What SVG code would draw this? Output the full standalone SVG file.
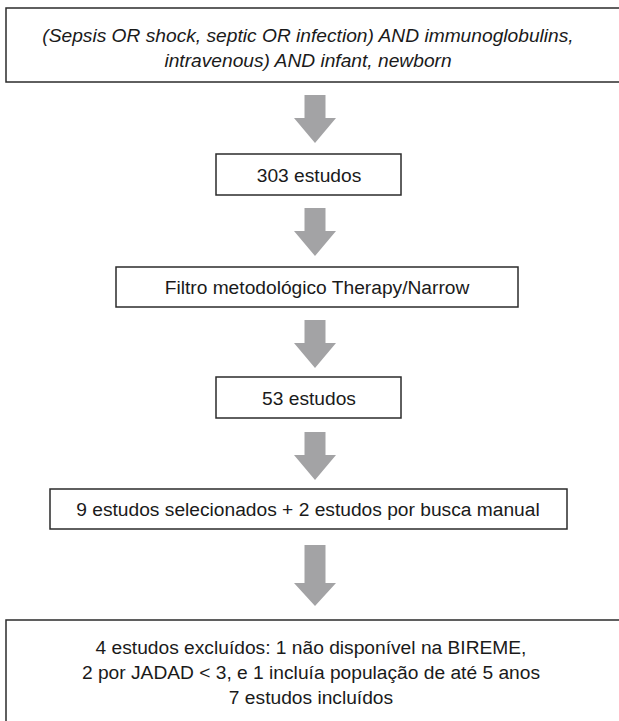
<svg xmlns="http://www.w3.org/2000/svg" width="619" height="721" viewBox="0 0 619 721">
<style>
.box{fill:#fff;stroke:#2b2b2b;stroke-width:1.5}
.t{font-family:"Liberation Sans",Arial,sans-serif;font-size:19.2px;fill:#1a1a1a;text-anchor:middle}
.i{font-style:italic}
.arr{fill:#a3a3a5}
</style>
<defs>
<path id="arrow" d="M-10.5,0 H10.5 V23 H21 L0,48 L-21,23 H-10.5 Z"/>
</defs>
<rect width="619" height="721" fill="#fff"/>
<g id="n1"><rect class="box" x="6" y="8" width="620" height="74"/>
<text class="t i" x="308" y="42">(Sepsis OR shock, septic OR infection) AND immunoglobulins,</text>
<text class="t i" x="308" y="67">intravenous) AND infant, newborn</text></g>
<g id="n2"><rect class="box" x="216" y="154" width="185" height="41"/>
<text class="t" x="309" y="181.5">303 estudos</text></g>
<g id="n3"><rect class="box" x="116" y="267" width="402" height="40"/>
<text class="t" x="317" y="294">Filtro metodológico Therapy/Narrow</text></g>
<g id="n4"><rect class="box" x="216" y="377" width="185" height="41"/>
<text class="t" x="309" y="404.5">53 estudos</text></g>
<g id="n5"><rect class="box" x="50" y="489" width="517" height="40"/>
<text class="t" x="308" y="516">9 estudos selecionados + 2 estudos por busca manual</text></g>
<g id="n6"><rect class="box" x="6" y="620" width="620" height="110"/>
<text class="t" x="311" y="654">4 estudos excluídos: 1 não disponível na BIREME,</text>
<text class="t" x="311" y="679">2 por JADAD &lt; 3, e 1 incluía população de até 5 anos</text>
<text class="t" x="311" y="704">7 estudos incluídos</text></g>
<g id="connectors" class="arr">
<use href="#arrow" x="315" y="95"/>
<use href="#arrow" x="315" y="208"/>
<use href="#arrow" x="315" y="320"/>
<use href="#arrow" x="315" y="432"/>
<path d="M304.5,545 H325.5 V583 H336 L315,606 L294,583 H304.5 Z"/>
</g>
</svg>
